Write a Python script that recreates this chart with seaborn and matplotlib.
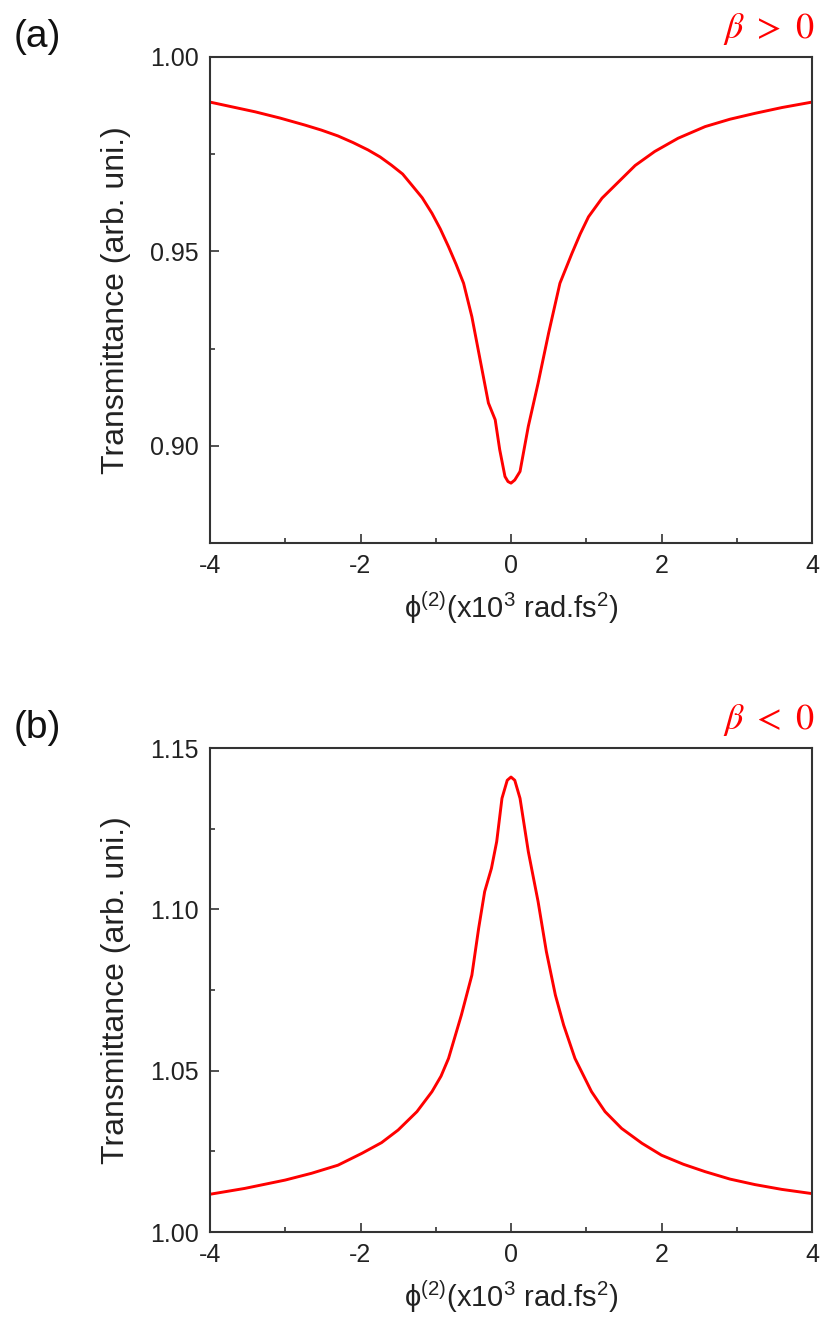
import matplotlib
matplotlib.use("Agg")
import matplotlib.pyplot as plt
from matplotlib.ticker import MultipleLocator
import seaborn as sns

# Positive nonlinear absorption (beta > 0): transmittance dip
phi_a = [-4.00, -3.40, -3.07, -2.74, -2.52, -2.30, -2.10, -1.90, -1.74, -1.59,
         -1.44, -1.32, -1.18, -1.05, -0.94, -0.83, -0.73, -0.63, -0.52, -0.41,
         -0.30, -0.21, -0.15, -0.08, -0.04, 0.00, 0.05, 0.12, 0.23, 0.36,
         0.50, 0.65, 0.81, 0.92, 1.03, 1.21, 1.43, 1.65, 1.91, 2.22,
         2.58, 2.91, 3.24, 3.60, 4.00]
trans_a = [0.9884, 0.9859, 0.9843, 0.9825, 0.9812, 0.9797, 0.9780, 0.9761, 0.9743, 0.9722,
           0.9699, 0.9671, 0.9638, 0.9598, 0.9558, 0.9512, 0.9467, 0.9418, 0.9332, 0.9221,
           0.9110, 0.9067, 0.8990, 0.8921, 0.8908, 0.8904, 0.8912, 0.8934, 0.9050, 0.9161,
           0.9290, 0.9418, 0.9495, 0.9545, 0.9589, 0.9637, 0.9679, 0.9721, 0.9757, 0.9791,
           0.9821, 0.9840, 0.9855, 0.9870, 0.9884]

# Negative nonlinear absorption (beta < 0): transmittance peak
phi_b = [-4.00, -3.54, -3.00, -2.65, -2.30, -1.98, -1.72, -1.50, -1.25, -1.05,
         -0.93, -0.83, -0.66, -0.52, -0.43, -0.35, -0.26, -0.19, -0.12, -0.05,
         0.00, 0.05, 0.12, 0.23, 0.36, 0.47, 0.59, 0.70, 0.85, 1.07,
         1.25, 1.47, 1.74, 2.00, 2.29, 2.58, 2.91, 3.24, 3.60, 4.00]
trans_b = [1.0117, 1.0135, 1.0161, 1.0182, 1.0207, 1.0244, 1.0277, 1.0316, 1.0373, 1.0435,
           1.0483, 1.0538, 1.0672, 1.0796, 1.0941, 1.1055, 1.1127, 1.1210, 1.1344, 1.1400,
           1.1410, 1.1400, 1.1344, 1.1179, 1.1024, 1.0869, 1.0734, 1.0641, 1.0538, 1.0435,
           1.0373, 1.0321, 1.0275, 1.0238, 1.0210, 1.0187, 1.0164, 1.0147, 1.0132, 1.0119]

panel_tags = ["(a)", "(b)"]
beta_tags = [r"$\mathit{\beta}\ >\ 0$", r"$\mathit{\beta}\ <\ 0$"]
ylims = [(0.875, 1.00), (1.00, 1.15)]
yticks = [[0.90, 0.95, 1.00], [1.00, 1.05, 1.10, 1.15]]
x_ticks = [-4, -2, 0, 2, 4]

sns.set_style("ticks")
plt.rcParams["font.family"] = ["Liberation Sans", "DejaVu Sans"]
plt.rcParams["mathtext.fontset"] = "custom"
plt.rcParams["mathtext.rm"] = "Liberation Sans"
plt.rcParams["mathtext.it"] = "Liberation Sans:italic"
plt.rcParams["mathtext.default"] = "rm"

fig = plt.figure(figsize=(8.23, 13.22), dpi=100)
W, H = 823, 1322
boxes = [(210, 57, 812, 543), (210, 748, 812, 1232)]
axes = [fig.add_axes([l / W, 1 - b / H, (r - l) / W, (b - t) / H]) for (l, t, r, b) in boxes]

data = [(phi_a, trans_a), (phi_b, trans_b)]
edge = "#333333"
for i, ax in enumerate(axes):
    xs, ys = data[i]
    sns.lineplot(x=xs, y=ys, ax=ax, color="#ff0000", linewidth=2.1, sort=False)
    for line in ax.lines:
        line.set_solid_joinstyle("round")
    ax.set_xlim(-4, 4)
    ax.set_ylim(*ylims[i])
    ax.set_xticks(x_ticks)
    ax.set_xticklabels([str(v) for v in x_ticks])
    ax.xaxis.set_minor_locator(MultipleLocator(1))
    ax.set_yticks(yticks[i])
    ax.set_yticklabels([f"{v:.2f}" for v in yticks[i]])
    ax.yaxis.set_minor_locator(MultipleLocator(0.025))
    for s in ax.spines.values():
        s.set_linewidth(1.5)
        s.set_color(edge)
    ax.tick_params(which="major", direction="in", length=6.5, width=1.2, color=edge,
                   labelsize=18, labelcolor="#222222", pad=8,
                   top=False, right=False)
    ax.tick_params(which="minor", direction="in", length=3.5, width=1.2, color=edge,
                   top=False, right=False)
    ax.set_ylabel("Transmittance (arb. uni.)", fontsize=23, color="#222222", labelpad=14)
    ax.set_xlabel("ϕ$^{(2)}$(x10$^{3}$ rad.fs$^{2}$)", fontsize=21, color="#222222", labelpad=8)

    t = boxes[i][1]
    fig.text(37 / W, 1 - (t - 20) / H, panel_tags[i], fontsize=28, color="#111111",
             ha="center", va="center")
    fig.text(815 / W, 1 - (t - 19) / H, beta_tags[i], fontsize=26, color="#ff0000",
             ha="right", va="baseline", math_fontfamily="stix")

fig.savefig("out.png", dpi=100)
